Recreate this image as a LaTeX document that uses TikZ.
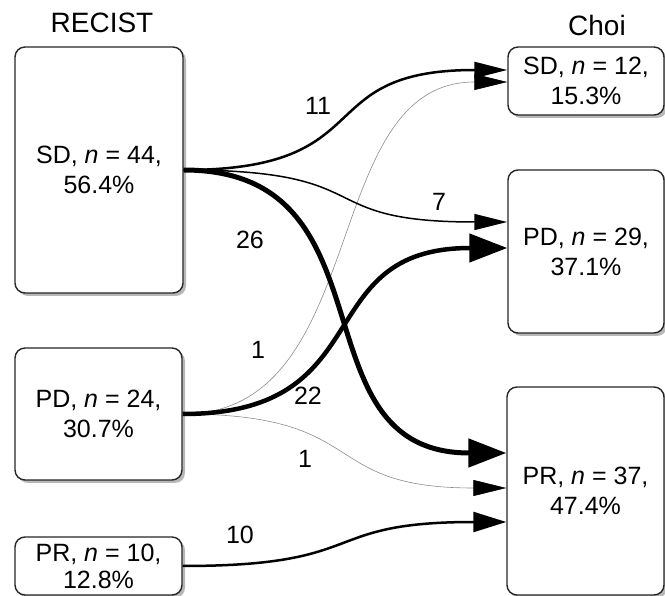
\documentclass[tikz,border=0pt]{standalone}
\usepackage{fontspec}
\setmainfont{Liberation Sans}
\usetikzlibrary{arrows.meta,shadows}
\begin{document}
\begin{tikzpicture}[x=1pt,y=-1pt,
  box/.style={draw=black!85, line width=1.4pt, rounded corners=10pt, fill=white, align=center,
    font=\fontsize{25}{30}\selectfont, inner sep=0pt,
    drop shadow={shadow xshift=3pt, shadow yshift=-3pt, fill=black!35, opacity=0.8}},
  ttl/.style={font=\fontsize{28}{32}\selectfont, inner sep=0pt},
  lbl/.style={font=\fontsize{25}{28}\selectfont, inner sep=0pt},
  tipA/.style={-{Triangle[length=33pt,width=16pt,color=black]}},
  tipB/.style={-{Triangle[length=38pt,width=28pt,color=black]}},
  thinflow/.style={draw=black!45, line width=0.6pt},
]
\useasboundingbox (0,0) rectangle (665,596);

% titles
\node[ttl] (t1) at (102,23) {RECIST};
\node[ttl] (t2) at (597,25) {Choi};

% boxes
\node[box, minimum width=168pt, minimum height=246pt] (lSD) at (99,170) {SD, \textit{n} = 44,\\56.4\%};
\node[box, minimum width=167pt, minimum height=132pt] (lPD) at (98.5,414) {PD, \textit{n} = 24,\\30.7\%};
\node[box, minimum width=167pt, minimum height=58pt, font=\fontsize{25}{27}\selectfont] (lPR) at (98.5,566) {PR, \textit{n} = 10,\\12.8\%};
\node[box, minimum width=156pt, minimum height=68pt] (rSD) at (586,81) {SD, \textit{n} = 12,\\15.3\%};
\node[box, minimum width=156pt, minimum height=163pt] (rPD) at (586,251.5) {PD, \textit{n} = 29,\\37.1\%};
\node[box, minimum width=157pt, minimum height=208pt] (rPR) at (585.5,491) {PR, \textit{n} = 37,\\47.4\%};

% flows
\draw[thinflow, tipA] (lPD.east) .. controls +(190,0) and +(-190,0) .. ([yshift=-1pt]rSD.west);
\draw[thinflow, tipA] (lPD.east) .. controls +(190,0) and +(-190,0) .. ([yshift=3pt]rPR.west);
\draw[line width=1.5pt, tipA] (lSD.east) .. controls +(200,0) and +(-200,0) .. ([yshift=29.5pt]rPD.west);
\draw[line width=2.5pt, tipA] (lSD.east) .. controls +(200,0) and +(-200,0) .. ([yshift=11pt]rSD.west);
\draw[line width=2.5pt, -{Triangle[length=33pt,width=20pt]}] (lPR.east) .. controls +(190,0) and +(-190,0) .. ([yshift=-31pt]rPR.west);
\draw[line width=4.5pt, tipB] (lPD.east) .. controls +(200,0) and +(-200,0) .. ([yshift=3.5pt]rPD.west);
\draw[line width=5pt, tipB] (lSD.east) .. controls +(215,0) and +(-215,0) .. ([yshift=38pt]rPR.west);

% labels
\node[lbl] (n11) at (318,106) {11};
\node[lbl] (n7) at (439,202) {7};
\node[lbl] (n26) at (250,240) {26};
\node[lbl] (n1a) at (258,350) {1};
\node[lbl] (n22) at (308,396) {22};
\node[lbl] (n1b) at (305,459) {1};
\node[lbl] (n10) at (240,535) {10};
\end{tikzpicture}
\end{document}
